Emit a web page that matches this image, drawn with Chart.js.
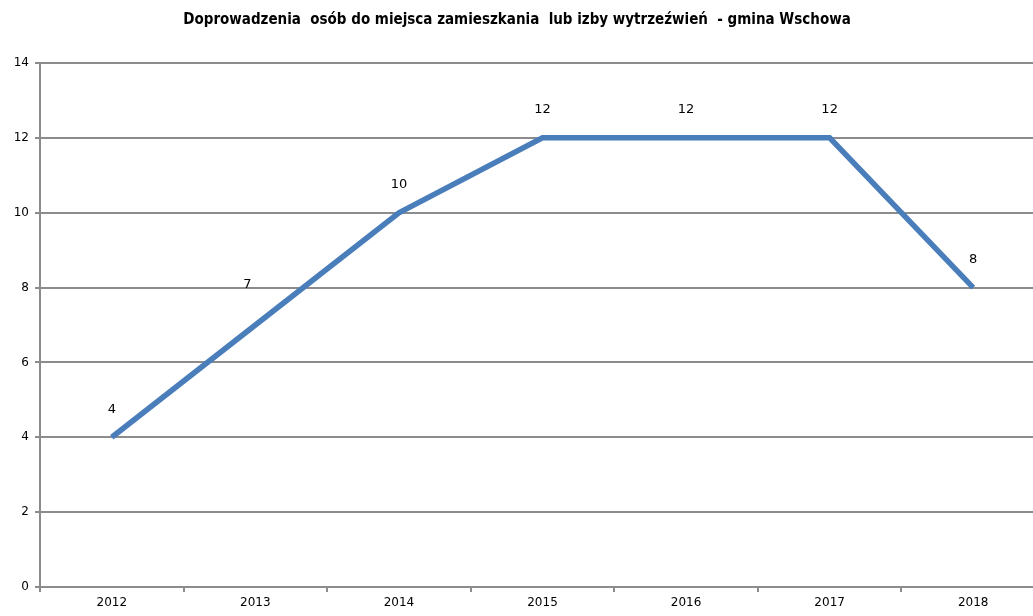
<!DOCTYPE html>
<html>
<head>
<meta charset="utf-8">
<script src="https://cdn.jsdelivr.net/npm/chart.js@4/dist/chart.umd.min.js"></script>
<style>
  html, body { margin: 0; padding: 0; background: #fff; overflow: hidden; }
  #wrap { width: 1033px; height: 616px; overflow: hidden; }
  #box { width: 1045px; height: 616px; }
</style>
</head>
<body>
<div id="wrap"><div id="box"><canvas id="lineChart"></canvas></div></div>
<script>
// chart data
const chartTitle = 'Doprowadzenia  osób do miejsca zamieszkania  lub izby wytrzeźwień  - gmina Wschowa';
const years = ['2012', '2013', '2014', '2015', '2016', '2017', '2018'];
const counts = [4, 7, 10, 12, 12, 12, 8];

const gridGray = '#8c8c8c';

// title + value labels drawn by hand (no datalabels plugin offline)
const labelsPlugin = {
    id: 'labelsPlugin',
    afterDatasetsDraw(chart) {
        const ctx = chart.ctx;
        ctx.save();
        ctx.fillStyle = '#000';
        ctx.font = 'bold 15px "Liberation Sans Narrow", "DejaVu Sans Condensed", sans-serif';
        ctx.textAlign = 'center';
        ctx.textBaseline = 'middle';
        ctx.fillText(chartTitle, 517, 20);

        ctx.font = '13px "DejaVu Sans", sans-serif';
        chart.getDatasetMeta(0).data.forEach(function (pt, i) {
            ctx.fillText(String(counts[i]), pt.x - (i === 1 ? 8 : 0), pt.y - (i === 1 ? 40 : 28));
        });
        ctx.restore();
    }
};

new Chart(document.getElementById('lineChart').getContext('2d'), {
    type: 'line',
    data: {
        labels: years,
        datasets: [{
            data: counts,
            borderColor: '#4a7ebb',
            borderWidth: 5.5,
            pointRadius: 0,
            tension: 0,
            fill: false
        }]
    },
    options: {
        responsive: true,
        maintainAspectRatio: false,
        animation: false,
        layout: { padding: { top: 63, right: 0, left: 0, bottom: 0 } },
        plugins: {
            legend: { display: false },
            title: { display: false },
            tooltip: { enabled: false }
        },
        scales: {
            x: {
                offset: true,
                grid: { offset: true, drawOnChartArea: false, drawTicks: true, tickLength: 5, color: gridGray, lineWidth: 2 },
                border: { color: gridGray, width: 2 },
                ticks: { color: '#000', font: { family: 'DejaVu Sans', size: 12 }, padding: 4 },
                afterFit: function (scale) { scale.height = 29; }
            },
            y: {
                min: 0,
                max: 14,
                ticks: { stepSize: 2, color: '#000', font: { family: 'DejaVu Sans', size: 12 }, padding: 6 },
                grid: { color: gridGray, lineWidth: 2, tickLength: 5 },
                border: { color: gridGray, width: 2 },
                afterFit: function (scale) { scale.width = 40; }
            }
        }
    },
    plugins: [labelsPlugin]
});
</script>
</body>
</html>
